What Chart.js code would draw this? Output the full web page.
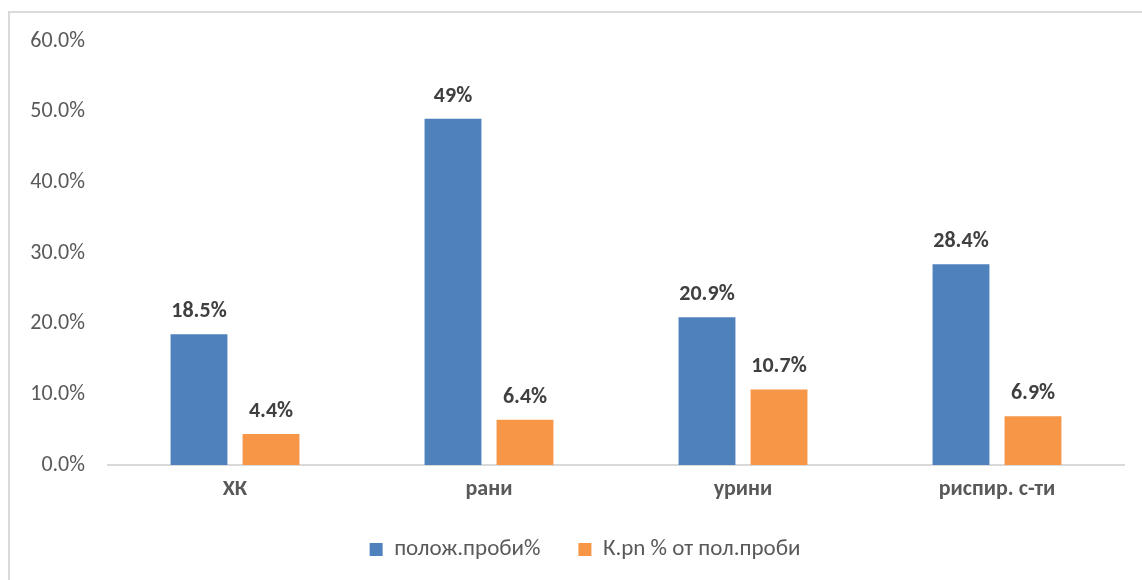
<!DOCTYPE html>
<html>
<head>
<meta charset="utf-8">
<script src="https://cdn.jsdelivr.net/npm/chart.js@4/dist/chart.umd.min.js"></script>
<style>
  html, body { margin: 0; padding: 0; background: #ffffff; }
  #wrap { position: relative; width: 1142px; height: 580px; }
  #frame {
    position: absolute; left: 8px; top: 11px; right: 0; bottom: 0;
    border-left: 2px solid #d9d9d9; border-top: 2px solid #d9d9d9;
    pointer-events: none;
  }
  canvas { position: absolute; left: 0; top: 0; }
</style>
</head>
<body>
<div id="wrap">
  <canvas id="chart" width="1142" height="580"></canvas>
  <div id="frame"></div>
</div>
<script>
// Categories and series (percent values)
const categories = ['ХК', 'рани', 'урини', 'риспир. с-ти'];
const positiveSamples = [18.5, 49, 20.9, 28.4];
const kpnOfPositive = [4.4, 6.4, 10.7, 6.9];
const seriesNames = ['полож.проби%', 'К.pn % от пол.проби'];
const yTicks = [0, 10, 20, 30, 40, 50, 60];

const FONT = "Carlito, Lato, 'Liberation Sans', sans-serif";
const SIZE = 22;
const GREY = '#595959';

function pctLabel(v) {
  return Number.isInteger(v) ? v + '%' : v.toFixed(1) + '%';
}

// Value labels above each bar
const valueLabels = {
  id: 'valueLabels',
  afterDatasetsDraw(chart) {
    const ctx = chart.ctx;
    ctx.save();
    ctx.font = "bold " + SIZE + "px " + FONT;
    ctx.fillStyle = '#404040';
    ctx.textAlign = 'center';
    ctx.textBaseline = 'alphabetic';
    chart.data.datasets.forEach((ds, di) => {
      const meta = chart.getDatasetMeta(di);
      meta.data.forEach((bar, i) => {
        ctx.fillText(pctLabel(ds.data[i]), bar.x, bar.y - 17);
      });
    });
    ctx.restore();
  }
};

// Center the legend under the whole frame rather than the padded area
const legendShift = {
  id: 'legendShift',
  afterLayout(chart) {
    const lg = chart.legend;
    if (lg) { lg.left += 23; lg.right += 23; }
  }
};

new Chart(document.getElementById('chart'), {
  type: 'bar',
  data: {
    labels: categories,
    datasets: [
      { label: seriesNames[0], data: positiveSamples, backgroundColor: '#4F81BD' },
      { label: seriesNames[1], data: kpnOfPositive, backgroundColor: '#F79646' }
    ]
  },
  options: {
    responsive: false,
    animation: false,
    devicePixelRatio: 1,
    categoryPercentage: 0.567,
    barPercentage: 0.79,
    layout: { padding: { top: 41, right: 18, left: 0, bottom: 9 } },
    plugins: {
      tooltip: { enabled: false },
      legend: {
        position: 'bottom',
        labels: {
          boxWidth: 13,
          boxHeight: 13,
          padding: 38,
          color: GREY,
          font: { family: FONT, size: 23 }
        }
      }
    },
    scales: {
      x: {
        afterFit(scale) { scale.height = 35; },
        grid: { display: false, drawTicks: false },
        border: { display: true, color: '#d9d9d9', width: 2 },
        ticks: {
          color: GREY,
          padding: 11,
          font: { family: FONT, size: SIZE, weight: 'bold' }
        }
      },
      y: {
        min: yTicks[0],
        max: yTicks[yTicks.length - 1],
        afterFit(scale) { scale.width = 108; },
        afterBuildTicks(scale) { scale.ticks = yTicks.map(v => ({ value: v })); },
        grid: { display: false, drawTicks: false },
        border: { display: false },
        ticks: {
          color: GREY,
          padding: 23,
          font: { family: FONT, size: SIZE },
          callback: v => v.toFixed(1) + '%'
        }
      }
    }
  },
  plugins: [valueLabels, legendShift]
});
</script>
</body>
</html>
